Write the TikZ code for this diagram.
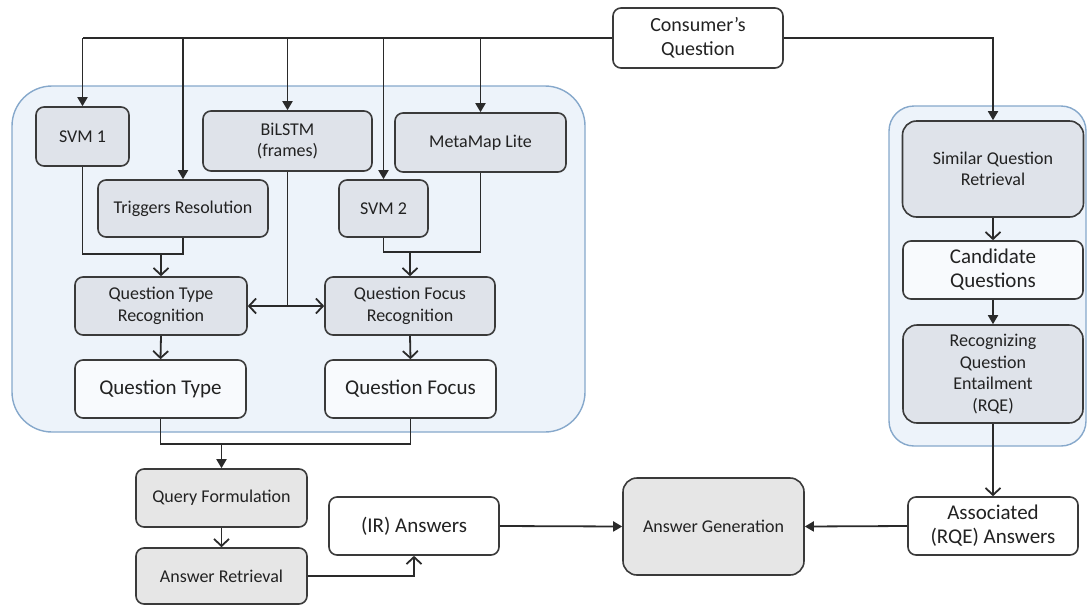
\documentclass[tikz,border=0pt]{standalone}
\usepackage{fontspec}
\setmainfont{Carlito}
\usetikzlibrary{arrows.meta}
\definecolor{bordc}{HTML}{3A3A3A}
\definecolor{linec}{HTML}{2A2A2A}
\definecolor{txtc}{HTML}{222222}
\definecolor{gfill}{HTML}{DFE3EA}
\definecolor{ofill}{HTML}{E6E6E6}
\definecolor{wfill}{HTML}{F8FAFD}
\definecolor{grpf}{HTML}{EDF3FA}
\definecolor{grpb}{HTML}{86A8CB}
\newcommand{\smallf}{\fontsize{18}{21.5}\selectfont}
\newcommand{\largef}{\fontsize{21}{24}\selectfont}
\newcommand{\midf}{\fontsize{20}{24}\selectfont}
\tikzset{
 box/.style={draw=bordc, line width=1.6pt, rounded corners=8pt, align=center, inner sep=2pt, text=txtc},
 gbox/.style={box, fill=gfill, font=\smallf},
 obox/.style={box, fill=ofill, font=\smallf},
 wbox/.style={box, fill=white, font=\largef},
 ibox/.style={box, fill=wfill, font=\largef},
 grp/.style={draw=grpb, line width=1.4pt, fill=grpf},
 conn/.style={draw=linec, line width=1.8pt},
 fa/.style={conn, -{Triangle[length=9pt,width=10pt]}},
 oa/.style={conn, -{Straight Barb[length=7pt,width=15pt]}},
}
\begin{document}
\begin{tikzpicture}[x=1pt,y=-1pt]
\useasboundingbox (0,0) rectangle (1088,606);
% groups
\node[grp, rounded corners=40pt, minimum width=573pt, minimum height=346pt] (g1) at (298.5,259) {};
\node[grp, rounded corners=25pt, minimum width=197pt, minimum height=340pt] (g2) at (987.5,276) {};
% nodes
\node[wbox, font=\midf, minimum width=170pt, minimum height=60pt] (cq) at (698,38) {Consumer’s\\Question};
\node[gbox, minimum width=93pt, minimum height=59pt] (svm1) at (82.5,136.5) {SVM 1};
\node[gbox, minimum width=169pt, minimum height=60pt] (bilstm) at (287.5,141) {BiLSTM\\(frames)};
\node[gbox, minimum width=171pt, minimum height=59pt] (meta) at (480.5,142.5) {MetaMap Lite};
\node[gbox, minimum width=170pt, minimum height=57pt] (trig) at (183,208.5) {Triggers Resolution};
\node[gbox, minimum width=89pt, minimum height=57pt] (svm2) at (383.5,208.5) {SVM 2};
\node[gbox, minimum width=172pt, minimum height=58pt] (qtr) at (161,306) {Question Type\\Recognition};
\node[gbox, minimum width=170pt, minimum height=58pt] (qfr) at (410,306) {Question Focus\\Recognition};
\node[ibox, minimum width=171pt, minimum height=58pt] (qt) at (160.5,389) {Question Type};
\node[ibox, minimum width=171pt, minimum height=58pt] (qf) at (410.5,389) {Question Focus};
\node[obox, minimum width=171pt, minimum height=58pt] (qform) at (221.5,498) {Query Formulation};
\node[obox, minimum width=171pt, minimum height=56pt] (aret) at (221.5,576) {Answer Retrieval};
\node[wbox, minimum width=170pt, minimum height=58pt] (ir) at (414,526) {(IR) Answers};
\node[obox, rounded corners=14pt, minimum width=181pt, minimum height=97pt] (agen) at (713.5,526.5) {Answer Generation};
\node[wbox, minimum width=170pt, minimum height=58pt] (assoc) at (993,526) {Associated\\(RQE) Answers};
\node[gbox, rounded corners=14pt, minimum width=181pt, minimum height=96pt] (sqr) at (993,169) {Similar Question\\Retrieval};
\node[ibox, minimum width=180pt, minimum height=58pt] (cand) at (993,270) {Candidate\\Questions};
\node[gbox, rounded corners=14pt, minimum width=180pt, minimum height=98pt] (rqe) at (993,374) {Recognizing\\Question\\Entailment\\(RQE)};
% top distribution
\draw[conn] (cq.west) -- (svm1 |- cq);
\draw[fa] (svm1 |- cq) -- (svm1.north);
\draw[fa] (trig |- cq) -- (trig.north);
\draw[fa] (bilstm |- cq) -- (bilstm.north);
\draw[fa] (svm2 |- cq) -- (svm2.north);
\draw[fa] (meta |- cq) -- (meta.north);
\draw[fa] (cq.east) -| (sqr.north);
% left inner
\coordinate (j1) at (161,254);
\draw[conn, line width=1.4pt] (svm1.south) |- (trig |- j1) -- (trig.south);
\draw[oa] (j1) -- (qtr.north);
\coordinate (j2) at (410,252);
\draw[conn, line width=1.4pt] (svm2.south) |- (meta |- j2) -- (meta.south);
\draw[oa] (j2) -- (qfr.north);
\draw[conn, line width=1.4pt] (bilstm.south) -- (bilstm |- qtr) coordinate (jb);
\draw[oa] (jb) -- (qtr.east);
\draw[oa] (jb) -- (qfr.west);
\draw[oa] (qtr.south) -- (qt.north);
\draw[oa] (qfr.south) -- (qf.north);
% merge
\coordinate (jm) at (221.5,444);
\draw[conn] (qt.south) |- (qf.south |- jm) -- (qf.south);
\draw[fa] (jm) -- (qform.north);
\draw[oa] (qform.south) -- (aret.north);
\draw[oa] (aret.east) -| (ir.south);
\draw[fa] (ir.east) -- (agen.west);
% right
\draw[oa] (sqr.south) -- (cand.north);
\draw[fa] (cand.south) -- (rqe.north);
\draw[oa] (rqe.south) -- (assoc.north);
\draw[fa] (assoc.west) -- (agen.east);
\end{tikzpicture}
\end{document}
